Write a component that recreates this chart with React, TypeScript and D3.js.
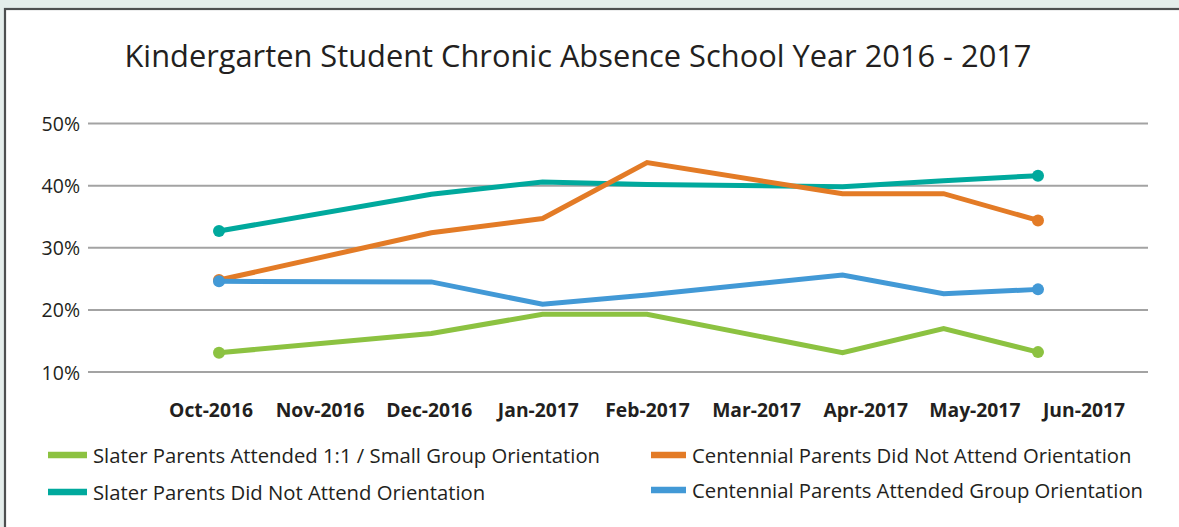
import React from "react";
import * as d3 from "d3";

const W = 1179;
const H = 527;

const title = "Kindergarten Student Chronic Absence School Year 2016 - 2017";

const monthLabels = [
  "Oct-2016", "Nov-2016", "Dec-2016", "Jan-2017", "Feb-2017",
  "Mar-2017", "Apr-2017", "May-2017", "Jun-2017",
];

const pointDates = [
  "2016-10-01", "2016-12-03", "2017-01-05", "2017-02-05",
  "2017-04-04", "2017-05-04", "2017-06-01",
];

const yTicks = [10, 20, 30, 40, 50];

const slaterAttended = [13.1, 16.2, 19.3, 19.3, 13.1, 17.0, 13.2];
const slaterNotAttended = [32.7, 38.6, 40.6, 40.2, 39.8, 40.8, 41.6];
const centennialNotAttended = [24.8, 32.4, 34.7, 43.7, 38.7, 38.7, 34.4];
const centennialAttended = [24.6, 24.5, 20.9, 22.4, 25.6, 22.6, 23.3];

const seriesNames = [
  "Slater Parents Attended 1:1 / Small Group Orientation",
  "Slater Parents Did Not Attend Orientation",
  "Centennial Parents Did Not Attend Orientation",
  "Centennial Parents Attended Group Orientation",
];
const seriesColors = ["#8cc241", "#00a99d", "#e37b26", "#4299d6"];
const seriesValues = [slaterAttended, slaterNotAttended, centennialNotAttended, centennialAttended];

const FONT = "'Open Sans', 'Noto Sans', sans-serif";

export default function App() {
  const parse = d3.timeParse("%Y-%m-%d");
  const dates = pointDates.map((d) => parse(d) as Date);
  const x = d3.scaleTime().domain([dates[0], dates[dates.length - 1]]).range([219, 1038]);
  const xLabel = d3.scalePoint<string>().domain(monthLabels).range([211, 1084]);
  const y = d3.scaleLinear().domain([10, 50]).range([372, 123.5]);

  const line = d3
    .line<number>()
    .x((_, i) => x(dates[i]))
    .y((v) => y(v));

  const drawOrder = [0, 1, 2, 3];

  const legendItems = [
    { idx: 0, x: 48, len: 39, tx: 93, y: 455 },
    { idx: 2, x: 651, len: 35, tx: 692, y: 455 },
    { idx: 1, x: 48, len: 39, tx: 93, y: 492 },
    { idx: 3, x: 651, len: 35, tx: 692, y: 490 },
  ];

  return (
    <svg
      width={W}
      height={H}
      style={{ position: "absolute", left: 0, top: 0, display: "block" }}
      fontFamily={FONT}
    >
      <rect x={0} y={0} width={W} height={H} fill="#e4edeb" />
      <rect x={5} y={9} width={W + 20} height={H + 20} fill="#ffffff" stroke="#4d4f50" strokeWidth={2.2} />

      <text x={578} y={67} textAnchor="middle" fontSize={30.8} fill="#231f20">
        {title}
      </text>

      {yTicks.map((t) => (
        <g key={t}>
          <line x1={88} x2={1148} y1={y(t)} y2={y(t)} stroke="#a3a3a3" strokeWidth={2} />
          <text
            x={80}
            y={y(t)}
            textAnchor="end"
            dominantBaseline="central"
            fontSize={19.5}
            fill="#231f20"
          >
            {t}%
          </text>
        </g>
      ))}

      {monthLabels.map((m) => (
        <text
          key={m}
          x={xLabel(m)}
          y={417}
          textAnchor="middle"
          fontSize={19.3}
          fontWeight="bold"
          fill="#231f20"
        >
          {m}
        </text>
      ))}

      {drawOrder.map((si) => {
        const vals = seriesValues[si];
        return (
          <g key={si}>
            <path
              d={line(vals) || ""}
              fill="none"
              stroke={seriesColors[si]}
              strokeWidth={5}
              strokeLinejoin="miter"
            />
            <circle cx={x(dates[0])} cy={y(vals[0])} r={6} fill={seriesColors[si]} />
            <circle
              cx={x(dates[dates.length - 1])}
              cy={y(vals[vals.length - 1])}
              r={6}
              fill={seriesColors[si]}
            />
          </g>
        );
      })}

      {legendItems.map((it) => (
        <g key={it.idx}>
          <line
            x1={it.x}
            x2={it.x + it.len}
            y1={it.y}
            y2={it.y}
            stroke={seriesColors[it.idx]}
            strokeWidth={6.5}
          />
          <text
            x={it.tx}
            y={it.y}
            dominantBaseline="central"
            fontSize={20.3}
            fill="#231f20"
          >
            {seriesNames[it.idx]}
          </text>
        </g>
      ))}
    </svg>
  );
}
